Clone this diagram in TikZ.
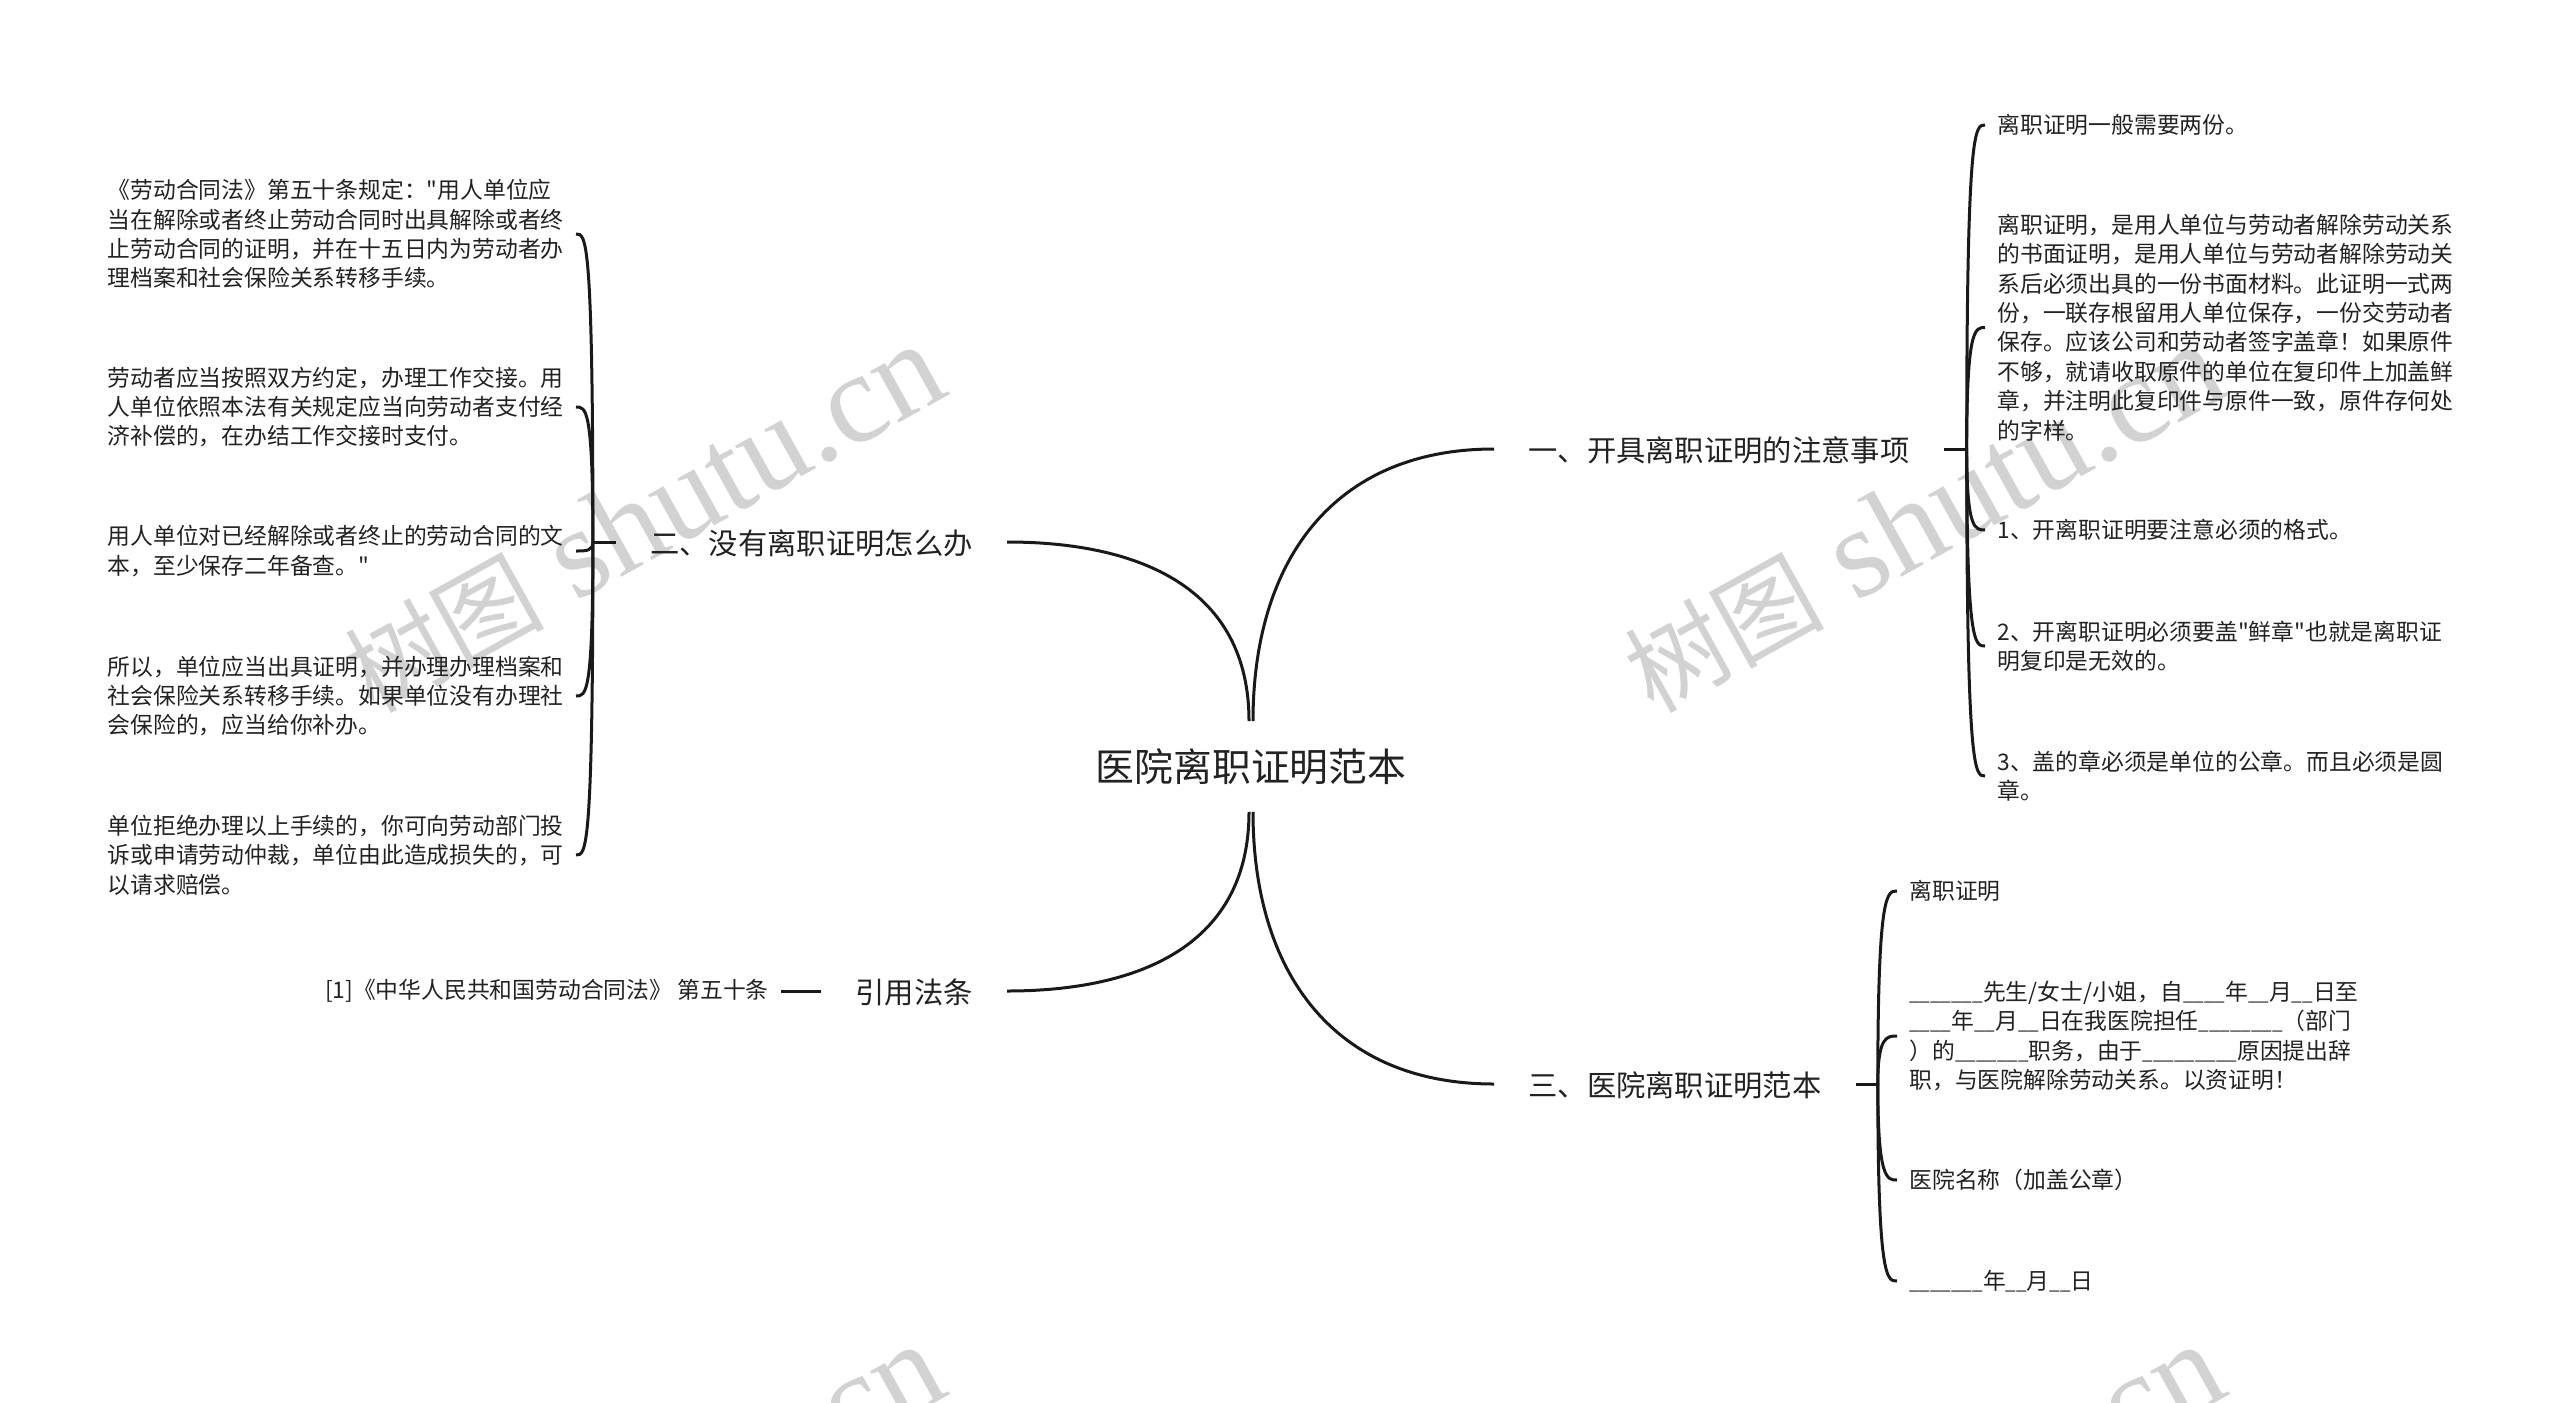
\documentclass[tikz,border=0pt]{standalone}
\usepackage{fontspec}
\setmainfont{Noto Sans CJK SC}
\newfontfamily\markfont{Liberation Serif}
\newfontfamily\plainfont{Noto Sans CJK SC}
\newfontfamily\blankfont[Scale=0.825]{Noto Sans CJK SC}
\usetikzlibrary{calc}

\definecolor{inkcol}{HTML}{222222}
\definecolor{markcol}{HTML}{D2D2D2}

\begin{document}
\begin{tikzpicture}[x=.5pt,y=-.5pt,
    every node/.style={text=inkcol},
    rootnode/.style={inner sep=0pt,minimum height=45pt,font=\fontsize{19.4}{24}\selectfont},
    branch/.style={inner xsep=17pt,inner ysep=0pt,text height=13pt,text depth=1pt,font=\fontsize{14.65}{18}\selectfont},
    leaf/.style={inner xsep=6pt,inner ysep=0pt,align=left,font=\fontsize{11.4}{14.7}\selectfont},
    wmark/.style={text=markcol,rotate=29,font=\fontsize{64}{64}\markfont},
    link/.style={draw=black!90,line width=1.5pt},
    rootlink/.style={link,looseness=1.13}]

    \useasboundingbox (0,0) rectangle (2560,1403);
    \clip (0,0) rectangle (2560,1403);

    \node [wmark] (wA) at (643,519) {{\rmfamily\fontsize{50}{50}\selectfont 树图} shutu.cn};
    \node [wmark] (wB) at (1923,519) {{\rmfamily\fontsize{50}{50}\selectfont 树图} shutu.cn};
    \node [wmark] (wC) at (643,1519) {{\rmfamily\fontsize{50}{50}\selectfont 树图} shutu.cn};
    \node [wmark] (wD) at (1923,1519) {{\rmfamily\fontsize{50}{50}\selectfont 树图} shutu.cn};

    \node [rootnode] (root) at (1251,766.5) {医院离职证明范本};

    \node [branch,anchor=west] (bA) at (1494,449) {一、开具离职证明的注意事项};
    \node [branch,anchor=east] (bB) at (1007,542) {二、没有离职证明怎么办};
    \node [branch,anchor=west] (bC) at (1494,1084) {三、医院离职证明范本};
    \node [branch,anchor=east] (bD) at (1007,991) {引用法条};

    \node [leaf,anchor=west] (rA) at (1985,125) {离职证明一般需要两份。};
    \node [leaf,anchor=west] (rB) at (1985,327.5) {离职证明，是用人单位与劳动者解除劳动关系\\
      的书面证明，是用人单位与劳动者解除劳动关\\
      系后必须出具的一份书面材料。此证明一式两\\
      份，一联存根留用人单位保存，一份交劳动者\\
      保存。应该公司和劳动者签字盖章！如果原件\\
      不够，就请收取原件的单位在复印件上加盖鲜\\
      章，并注明此复印件与原件一致，原件存何处\\
      的字样。};
    \node [leaf,anchor=west] (rC) at (1985,530) {1、开离职证明要注意必须的格式。};
    \node [leaf,anchor=west] (rD) at (1985,646) {2、开离职证明必须要盖{\plainfont"}鲜章{\plainfont"}也就是离职证\\
      明复印是无效的。};
    \node [leaf,anchor=west] (rE) at (1985,776) {3、盖的章必须是单位的公章。而且必须是圆\\
      章。};

    \node [leaf,anchor=east] (lA) at (576,234) {《劳动合同法》第五十条规定：{\plainfont"}用人单位应\\
      当在解除或者终止劳动合同时出具解除或者终\\
      止劳动合同的证明，并在十五日内为劳动者办\\
      理档案和社会保险关系转移手续。};
    \node [leaf,anchor=east] (lB) at (576,407) {劳动者应当按照双方约定，办理工作交接。用\\
      人单位依照本法有关规定应当向劳动者支付经\\
      济补偿的，在办结工作交接时支付。};
    \node [leaf,anchor=east] (lC) at (576,551) {用人单位对已经解除或者终止的劳动合同的文\\
      本，至少保存二年备查。{\plainfont"}};
    \node [leaf,anchor=east] (lD) at (576,696) {所以，单位应当出具证明，并办理办理档案和\\
      社会保险关系转移手续。如果单位没有办理社\\
      会保险的，应当给你补办。};
    \node [leaf,anchor=east] (lE) at (576,855) {单位拒绝办理以上手续的，你可向劳动部门投\\
      诉或申请劳动仲裁，单位由此造成损失的，可\\
      以请求赔偿。};

    \node [leaf,anchor=west] (cA) at (1897,891) {离职证明};
    \node [leaf,anchor=west] (cB) at (1897,1036) {{\blankfont\_\_\_\_\_\_\_}先生/女士/小姐，自{\blankfont\_\_\_\_}年{\blankfont\_\_}月{\blankfont\_\_}日至\\
      {\blankfont\_\_\_\_}年{\blankfont\_\_}月{\blankfont\_\_}日在我医院担任{\blankfont\_\_\_\_\_\_\_\_}（部门\\
      ）的{\blankfont\_\_\_\_\_\_\_}职务，由于{\blankfont\_\_\_\_\_\_\_\_\_}原因提出辞\\
      职，与医院解除劳动关系。以资证明！};
    \node [leaf,anchor=west] (cC) at (1897,1180) {医院名称（加盖公章）};
    \node [leaf,anchor=west] (cD) at (1897,1281) {{\blankfont\_\_\_\_\_\_\_}年{\blankfont\_\_}月{\blankfont\_\_}日};

    \node [leaf,anchor=east] (dA) at (781,991) {[1]《中华人民共和国劳动合同法》 第五十条};

    \coordinate (sA) at ($(bA.east)+(23,0)$);
    \coordinate (sB) at ($(bB.west)+(-23,0)$);
    \coordinate (sC) at ($(bC.east)+(22,0)$);

    \draw [rootlink] ([xshift=1pt]root.north) to[out=90,in=180] (bA.west);
    \draw [rootlink] ([xshift=-1pt]root.north) to[out=90,in=0] (bB.east);
    \draw [rootlink] ([xshift=1pt]root.south) to[out=-90,in=180] (bC.west);
    \draw [rootlink] ([xshift=-1pt]root.south) to[out=-90,in=0] (bD.east);

    \draw [link] (bA.east)--(sA);
    \draw [link] (bB.west)--(sB);
    \draw [link] (bC.east)--(sC);
    \draw [link] (bD.west)--(dA.east);

    \draw [link] (sA) .. controls (sA |- rA.west) and ($(rA.west)+(-10,0)$) .. (rA.west);
    \draw [link] (sA) .. controls (sA |- rB.west) and ($(rB.west)+(-10,0)$) .. (rB.west);
    \draw [link] (sA) .. controls (sA |- rC.west) and ($(rC.west)+(-10,0)$) .. (rC.west);
    \draw [link] (sA) .. controls (sA |- rD.west) and ($(rD.west)+(-10,0)$) .. (rD.west);
    \draw [link] (sA) .. controls (sA |- rE.west) and ($(rE.west)+(-10,0)$) .. (rE.west);

    \draw [link] (sB) .. controls (sB |- lA.east) and ($(lA.east)+(10,0)$) .. (lA.east);
    \draw [link] (sB) .. controls (sB |- lB.east) and ($(lB.east)+(10,0)$) .. (lB.east);
    \draw [link] (sB) .. controls (sB |- lC.east) and ($(lC.east)+(10,0)$) .. (lC.east);
    \draw [link] (sB) .. controls (sB |- lD.east) and ($(lD.east)+(10,0)$) .. (lD.east);
    \draw [link] (sB) .. controls (sB |- lE.east) and ($(lE.east)+(10,0)$) .. (lE.east);

    \draw [link] (sC) .. controls (sC |- cA.west) and ($(cA.west)+(-10,0)$) .. (cA.west);
    \draw [link] (sC) .. controls (sC |- cB.west) and ($(cB.west)+(-10,0)$) .. (cB.west);
    \draw [link] (sC) .. controls (sC |- cC.west) and ($(cC.west)+(-10,0)$) .. (cC.west);
    \draw [link] (sC) .. controls (sC |- cD.west) and ($(cD.west)+(-10,0)$) .. (cD.west);
\end{tikzpicture}
\end{document}
